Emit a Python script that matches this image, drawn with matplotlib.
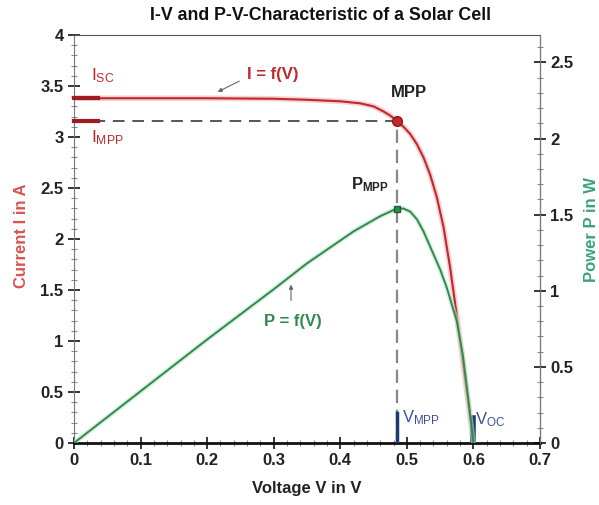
import matplotlib
matplotlib.use("Agg")
import matplotlib.pyplot as plt
from matplotlib.ticker import MultipleLocator, FuncFormatter

plt.rcParams["font.family"] = ["Liberation Sans Narrow", "Liberation Sans", "DejaVu Sans"]
plt.rcParams["mathtext.default"] = "regular"

# I-V curve (V in volts, I in amps)
iv_volt = [0.0, 0.10, 0.20, 0.30, 0.35, 0.40, 0.43, 0.45, 0.465, 0.475, 0.485,
           0.495, 0.505, 0.515, 0.525, 0.535, 0.545, 0.555, 0.565, 0.575,
           0.585, 0.593, 0.600]
iv_curr = [3.38, 3.38, 3.38, 3.375, 3.365, 3.35, 3.33, 3.30, 3.25, 3.21, 3.16,
           3.10, 3.03, 2.93, 2.80, 2.63, 2.41, 2.12, 1.72, 1.25,
           0.75, 0.35, 0.0]

# P-V curve (V in volts, P in watts)
pv_volt = [0.0, 0.10, 0.20, 0.30, 0.35, 0.38, 0.40, 0.42, 0.44, 0.46, 0.475,
           0.485, 0.495, 0.505, 0.515, 0.525, 0.539, 0.550, 0.560, 0.575,
           0.584, 0.592, 0.600]
pv_pow = [0.0, 0.34, 0.68, 1.01, 1.18, 1.27, 1.33, 1.39, 1.44, 1.49, 1.52,
          1.54, 1.54, 1.52, 1.47, 1.39, 1.25, 1.14, 1.02, 0.80,
          0.58, 0.30, 0.0]

# characteristic points
v_mpp, i_mpp, p_mpp = 0.485, 3.16, 1.54
i_sc, v_oc = 3.38, 0.60

RED = "#c0282d"
GREEN = "#2f8a4e"
BLUE = "#3b4f9e"
NAVY = "#1f3a6e"

fig = plt.figure(figsize=(5.99, 5.05), dpi=100)
ax = fig.add_axes([74 / 599, 62 / 505, 466 / 599, 408 / 505])
ax2 = ax.twinx()

# curves
ax.plot(iv_volt, iv_curr, color="#f2b5b5", lw=4, alpha=0.6, zorder=2)
ax.plot(iv_volt, iv_curr, color=RED, lw=1.5, zorder=3)
ax2.plot(pv_volt, pv_pow, color="#bfe3c8", lw=3.5, alpha=0.6, zorder=2)
ax2.plot(pv_volt, pv_pow, color=GREEN, lw=1.4, zorder=3)

# MPP guides
ax.plot([0, v_mpp], [i_mpp, i_mpp], color="#555555", lw=1.4, ls=(0, (6, 4)), zorder=2)
ax.plot([v_mpp, v_mpp], [0, i_mpp], color="#888888", lw=1.6, ls=(0, (6, 3)), zorder=2)
ax.plot([v_mpp], [i_mpp], "o", ms=7, color=RED, mec="#8b1a1a", zorder=4)
ax2.plot([v_mpp], [p_mpp], "s", ms=4, color=GREEN, mec="#1e5e33", zorder=4)

# marks on the axes
ax.plot([0, 0.036], [i_sc, i_sc], color="#a01c22", lw=3, zorder=4, clip_on=False)
ax.plot([0, 0.036], [i_mpp, i_mpp], color="#a01c22", lw=3, zorder=4, clip_on=False)
ax.plot([v_mpp, v_mpp], [0, 0.29], color=NAVY, lw=2.5, zorder=4)
ax.plot([v_oc, v_oc], [0, 0.25], color=NAVY, lw=4, zorder=4)

# annotations
ax.text(0.026, 3.60, "I$_{SC}$", color=RED, fontsize=12.5, va="center", ha="left")
ax.text(0.026, 2.99, "I$_{MPP}$", color=RED, fontsize=12.5, va="center", ha="left")
ax.text(0.26, 3.61, "I = f(V)", color=RED, fontsize=12, fontweight="bold", va="center", ha="left")
ax.annotate("", xy=(0.212, 3.43), xytext=(0.252, 3.56),
            arrowprops=dict(arrowstyle="-|>", color="#666666", lw=0.8, mutation_scale=6))
ax.text(0.503, 3.44, "MPP", color="#222222", fontsize=12, fontweight="bold", va="center", ha="center")
ax.text(0.473, 2.53, "P$_{MPP}$", color="#222222", fontsize=12, fontweight="bold", va="center", ha="right")
ax.text(0.329, 1.19, "P = f(V)", color=GREEN, fontsize=12, fontweight="bold", va="center", ha="center")
ax.annotate("", xy=(0.326, 1.58), xytext=(0.326, 1.37),
            arrowprops=dict(arrowstyle="-|>", color="#666666", lw=0.8, mutation_scale=6))
ax.text(0.492, 0.25, "V$_{MPP}$", color=BLUE, fontsize=12, va="center", ha="left")
ax.text(0.603, 0.23, "V$_{OC}$", color=BLUE, fontsize=12, va="center", ha="left")

# axes and ticks
fmt = FuncFormatter(lambda v, pos: "%g" % round(v, 2))
ax.set_xlim(0, 0.7)
ax.set_ylim(0, 4)
ax2.set_ylim(0, 2.68)
ax.xaxis.set_major_locator(MultipleLocator(0.1))
ax.xaxis.set_minor_locator(MultipleLocator(0.02))
ax.yaxis.set_major_locator(MultipleLocator(0.5))
ax.yaxis.set_minor_locator(MultipleLocator(0.1))
ax2.yaxis.set_major_locator(MultipleLocator(0.5))
ax2.yaxis.set_minor_locator(MultipleLocator(0.1))
for a in (ax, ax2):
    a.xaxis.set_major_formatter(fmt)
    a.yaxis.set_major_formatter(fmt)
    a.tick_params(which="major", direction="inout", length=9, width=1.1,
                  labelsize=12, pad=3)
    a.tick_params(which="minor", direction="inout", length=5, width=0.8, color="#888888")
    for lab in a.get_xticklabels() + a.get_yticklabels():
        lab.set_fontweight("bold")
        lab.set_color("#222222")

ax.spines["bottom"].set_linewidth(2)
ax.spines["bottom"].set_color("#111111")
ax.spines["left"].set_color("#777777")
ax.spines["top"].set_color("#555555")
ax2.spines["right"].set_color("#777777")
for s in ("top", "bottom", "left"):
    ax2.spines[s].set_visible(False)

fig.text(321 / 599, 1 - 15 / 505, "I-V and P-V-Characteristic of a Solar Cell",
         fontsize=12.8, fontweight="bold", ha="center", va="center", color="#111111")
fig.text(307 / 599, 1 - 488 / 505, "Voltage V in V", fontsize=12, fontweight="bold",
         ha="center", va="center", color="#222222")
fig.text(22 / 599, 1 - 236 / 505, "Current I in A", fontsize=12, fontweight="bold",
         ha="center", va="center", rotation=90, color="#d9534f")
fig.text(592 / 599, 1 - 230 / 505, "Power P in W", fontsize=12, fontweight="bold",
         ha="center", va="center", rotation=90, color="#3aa37a")

fig.savefig("out.png", dpi=100)
